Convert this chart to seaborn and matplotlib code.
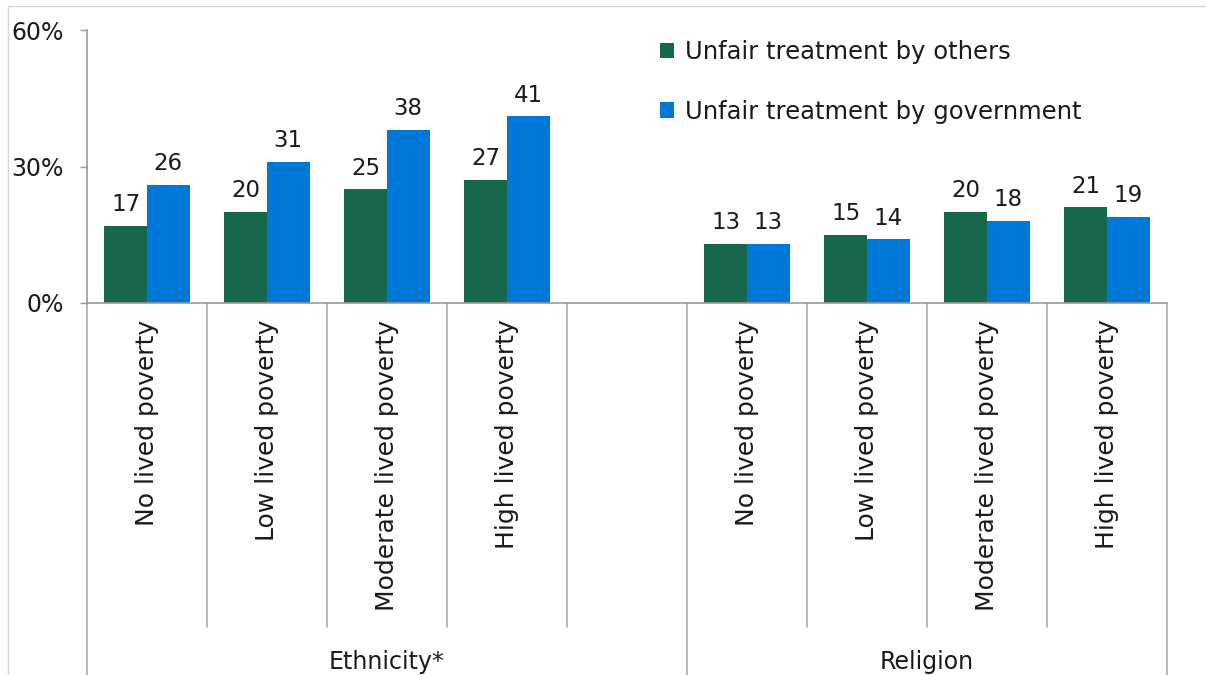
import pandas as pd
import seaborn as sns
import matplotlib.pyplot as plt
from matplotlib.patches import Rectangle
from matplotlib.transforms import blended_transform_factory

# data
groups = ["Ethnicity*", "Religion"]
levels = ["No lived poverty", "Low lived poverty", "Moderate lived poverty", "High lived poverty"]
series = ["Unfair treatment by others", "Unfair treatment by government"]
eth_others = [17, 20, 25, 27]
eth_gov = [26, 31, 38, 41]
rel_others = [13, 15, 20, 21]
rel_gov = [13, 14, 18, 19]

colors = ["#17684F", "#0078D7"]

# long table, one empty slot between the two groups
rows = []
for g, oth, gov in [(groups[0], eth_others, eth_gov), (groups[1], rel_others, rel_gov)]:
    for lev, a, b in zip(levels, oth, gov):
        rows.append({"slot": g + "|" + lev, "series": series[0], "value": a})
        rows.append({"slot": g + "|" + lev, "series": series[1], "value": b})
df = pd.DataFrame(rows)
order = [groups[0] + "|" + l for l in levels] + ["gap"] + [groups[1] + "|" + l for l in levels]

sns.set_style("white")
plt.rcParams["font.family"] = ["DejaVu Sans"]

fig = plt.figure(figsize=(12.06, 6.75), dpi=100)
ax = fig.add_axes([87 / 1206, 372 / 675, 1080 / 1206, 273 / 675])

sns.barplot(data=df, x="slot", y="value", hue="series", order=order, hue_order=series,
            palette=colors, width=0.71, saturation=1, linewidth=0, ax=ax, legend=True,
            errorbar=None)

for cont in ax.containers:
    ax.bar_label(cont, labels=[f"{v:.0f}" for v in cont.datavalues], padding=7, fontsize=16.5,
                 color="#1a1a1a")

ax.set_xlim(-0.5, 8.5)
ax.set_ylim(0, 60)
ax.set_yticks([0, 30, 60])
ax.set_yticklabels(["0%", "30%", "60%"], fontsize=17, color="#1a1a1a")
ax.tick_params(axis="y", length=5, width=1, color="#999999", left=True, pad=12)

ticklabels = levels + [""] + levels
ax.set_xticks(range(len(order)))
ax.set_xticklabels(ticklabels, rotation=90, fontsize=18, color="#1a1a1a", va="top")
ax.tick_params(axis="x", length=0, pad=12)
ax.set_xlabel("")
ax.set_ylabel("")

for s in ["top", "right"]:
    ax.spines[s].set_visible(False)
for s in ["left", "bottom"]:
    ax.spines[s].set_color("#999999")
    ax.spines[s].set_linewidth(1.2)

# category dividers below the axis
trans = blended_transform_factory(ax.transData, ax.transAxes)
for x in [0.5, 1.5, 2.5, 3.5, 5.5, 6.5, 7.5]:
    ax.plot([x, x], [0, -1.187], color="#aaaaaa", lw=1.2, transform=trans, clip_on=False)
for x in [-0.5, 4.5, 8.5]:
    ax.plot([x, x], [0, -1.45], color="#aaaaaa", lw=1.2, transform=trans, clip_on=False)

ax.text(2.0, -1.315, groups[0], transform=trans, ha="center", va="center", fontsize=17,
        color="#1a1a1a")
ax.text(6.5, -1.315, groups[1], transform=trans, ha="center", va="center", fontsize=17,
        color="#1a1a1a")

leg = ax.legend(loc="upper left", bbox_to_anchor=(638 / 1206, 1 - 18 / 675),
                bbox_transform=fig.transFigure, frameon=False, fontsize=17.5,
                handlelength=0.6, handleheight=0.6, handletextpad=0.45, labelspacing=1.47)
for t in leg.get_texts():
    t.set_color("#1a1a1a")

# light chart border
fig.patches.append(Rectangle((8 / 1206, -0.05), 1.1, 1 - 6 / 675 + 0.05, transform=fig.transFigure,
                             fill=False, edgecolor="#d9d9d9", lw=1))

fig.savefig("out.png", dpi=100)
